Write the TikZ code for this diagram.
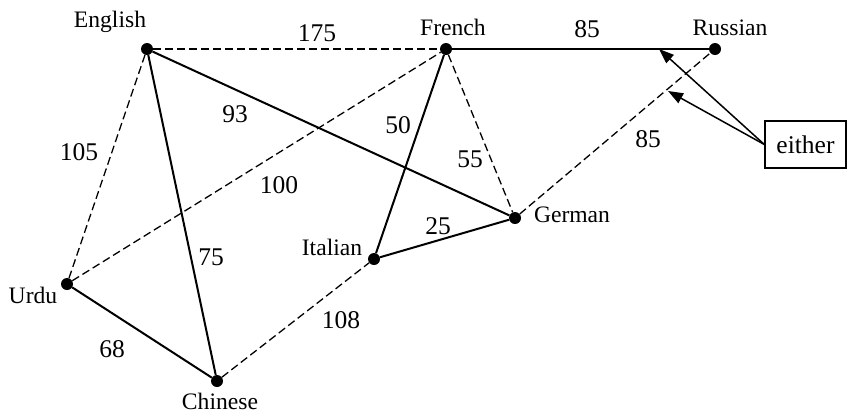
\documentclass[tikz,border=0pt]{standalone}
\usepackage{fontspec}
\setmainfont{Liberation Serif}
\usetikzlibrary{arrows.meta}
\begin{document}
\begin{tikzpicture}[x=1bp,y=-1bp,
  dot/.style={circle,fill=black,inner sep=0pt,minimum size=12bp},
  lang/.style={anchor=base,inner sep=0pt,font=\fontsize{23.6bp}{28bp}\selectfont},
  wt/.style={anchor=base,inner sep=0pt,font=\fontsize{25.5bp}{30bp}\selectfont},
  solidedge/.style={line width=2bp},
  dashedge/.style={line width=1.3bp,dash pattern=on 8bp off 4bp},
  pointer/.style={line width=1.5bp,-{Triangle[length=15bp,width=11bp]}},
  boxnode/.style={draw,line width=1.3bp,minimum width=81bp,minimum height=47bp,inner sep=0pt,font=\fontsize{25.5bp}{30bp}\selectfont}
]
\useasboundingbox (0,0) rectangle (847,414);

% vertices
\node[dot] (en) at (147,49) {};
\node[dot] (fr) at (446,49) {};
\node[dot] (ru) at (715,49) {};
\node[dot] (ur) at (67,284) {};
\node[dot] (ch) at (217,381) {};
\node[dot] (it) at (374,259) {};
\node[dot] (de) at (515,218) {};

% vertex labels
\node[lang] (enl) at (110,27) {English};
\node[lang] (frl) at (453,35) {French};
\node[lang] (rul) at (730,35) {Russian};
\node[lang] (url) at (33,303) {Urdu};
\node[lang] (chl) at (220,409) {Chinese};
\node[lang] (itl) at (332,255) {Italian};
\node[lang] (del) at (572,222) {German};

% edges
\draw[dashedge] (en) -- (fr);
\draw[solidedge] (fr) -- (ru);
\draw[dashedge] (en) -- (ur);
\draw[solidedge] (en) -- (ch);
\draw[solidedge] (en) -- (de);
\draw[dashedge] (ur) -- (fr);
\draw[solidedge] (ur) -- (ch);
\draw[dashedge] (ch) -- (it);
\draw[solidedge] (it) -- (fr);
\draw[dashedge] (fr) -- (de);
\draw[solidedge] (it) -- (de);
\draw[dashedge] (de) -- (ru);

% weights
\node[wt] (w175) at (317,41) {175};
\node[wt] (w85a) at (587,37) {85};
\node[wt] (w93) at (235,122) {93};
\node[wt] (w100) at (279,193) {100};
\node[wt] (w105) at (79,160) {105};
\node[wt] (w50) at (398,133) {50};
\node[wt] (w55) at (470,167) {55};
\node[wt] (w25) at (438,234) {25};
\node[wt] (w75) at (211,265) {75};
\node[wt] (w68) at (112,357) {68};
\node[wt] (w108) at (341,328) {108};
\node[wt] (w85b) at (648,147) {85};

% either box and pointers
\node[boxnode] (either) at (805.5,144.5) {either};
\coordinate (tipA) at (659,49);
\coordinate (tipB) at (668,91);
\draw[pointer] (either.west) -- (tipA);
\draw[pointer] (either.west) -- (tipB);
\end{tikzpicture}
\end{document}
